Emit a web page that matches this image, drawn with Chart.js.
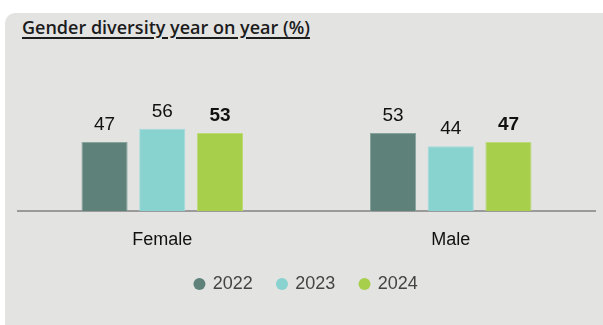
<!DOCTYPE html>
<html>
<head>
<meta charset="utf-8">
<script src="https://cdn.jsdelivr.net/npm/chart.js@4.4.1/dist/chart.umd.min.js"></script>
<style>
  html, body { margin: 0; padding: 0; background: #ffffff; }
  #wrap { position: relative; width: 603px; height: 325px; overflow: hidden; }
  #panel {
    position: absolute; left: 5px; top: 13px; width: 610px; height: 330px;
    background: #e3e3e2; border-top-left-radius: 10px;
  }
  #title {
    position: absolute; left: 22px; top: 15px;
    font-family: "Open Sans", sans-serif; font-weight: 600; font-size: 18px;
    color: #1c1c1c; text-decoration: underline; text-underline-offset: 3px;
    text-decoration-thickness: 1.5px; white-space: nowrap;
  }
  canvas { position: absolute; left: 0; top: 0; }
</style>
</head>
<body>
<div id="wrap">
  <div id="panel"></div>
  <div id="title">Gender diversity year on year (%)</div>
  <canvas id="chart" width="603" height="325"></canvas>
</div>
<script>
// Data
const categories = ['Female', 'Male'];
const years = ['2022', '2023', '2024'];
const values2022 = [47, 53];
const values2023 = [56, 44];
const values2024 = [53, 47];
const colors = ['#5e8179', '#88d2d0', '#a7cf4c'];
const edgeColors = ['#86a39c', '#a3dcda', '#badb78'];

// value labels above bars, latest year in bold
const valueLabels = {
    id: 'valueLabels',
    afterDatasetsDraw(chart) {
        const ctx = chart.ctx;
        ctx.save();
        ctx.textAlign = 'center';
        ctx.textBaseline = 'alphabetic';
        ctx.fillStyle = '#111';
        chart.data.datasets.forEach((ds, i) => {
            const meta = chart.getDatasetMeta(i);
            ctx.font = (i === 2 ? 'bold ' : '') + '19px "Liberation Sans", Arial, sans-serif';
            meta.data.forEach((bar, j) => {
                ctx.fillText(ds.data[j], bar.x, bar.y - 12);
            });
        });
        ctx.restore();
    }
};

const ctx = document.getElementById('chart').getContext('2d');
new Chart(ctx, {
    type: 'bar',
    data: {
        labels: categories,
        datasets: [
            { label: years[0], data: values2022, backgroundColor: colors[0], borderColor: edgeColors[0] },
            { label: years[1], data: values2023, backgroundColor: colors[1], borderColor: edgeColors[1] },
            { label: years[2], data: values2024, backgroundColor: colors[2], borderColor: edgeColors[2] }
        ]
    },
    options: {
        responsive: false,
        animation: false,
        layout: { padding: { left: 18, right: 8, top: 64, bottom: 22 } },
        datasets: { bar: { barPercentage: 0.8, categoryPercentage: 0.6, borderWidth: 1 } },
        plugins: {
            legend: {
                position: 'bottom',
                labels: {
                    usePointStyle: true,
                    pointStyle: 'circle',
                    boxWidth: 8.5,
                    boxHeight: 8.5,
                    padding: 25,
                    color: '#444',
                    font: { family: '"Liberation Sans", Arial, sans-serif', size: 18 },
                    generateLabels(chart) {
                        const items = Chart.defaults.plugins.legend.labels.generateLabels(chart);
                        items.forEach(it => { it.lineWidth = 0; it.strokeStyle = it.fillStyle; });
                        return items;
                    }
                }
            },
            tooltip: { enabled: false }
        },
        scales: {
            x: {
                grid: { display: false },
                border: { display: true, color: '#9a9a9a', width: 2 },
                ticks: {
                    color: '#111',
                    padding: 10,
                    font: { family: '"Liberation Sans", Arial, sans-serif', size: 18 }
                },
                // fixed band between axis line and legend
                afterFit(scale) { scale.height = 39; }
            },
            y: {
                display: false,
                min: 0,
                max: 100
            }
        }
    },
    plugins: [valueLabels]
});
</script>
</body>
</html>
